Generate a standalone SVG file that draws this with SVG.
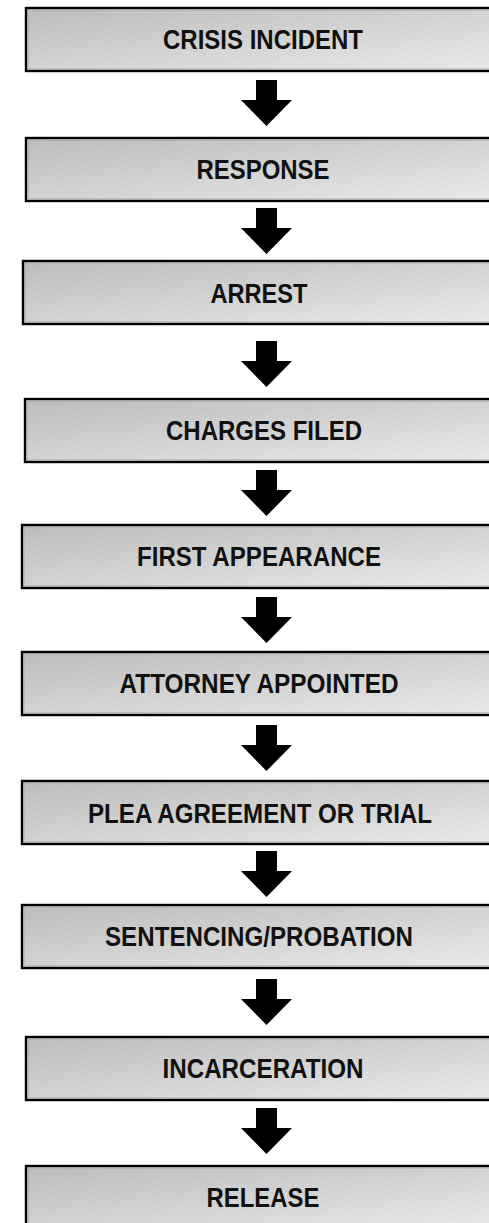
<svg xmlns="http://www.w3.org/2000/svg" width="489" height="1223" viewBox="0 0 489 1223">
<style>
.box{fill:url(#g);stroke:#000;stroke-width:2.4}
.inner{fill:none;stroke:#a9a9a9;stroke-width:1}
.lbl{font-family:"Liberation Sans",Arial,sans-serif;font-weight:bold;font-size:27px;fill:#111;text-anchor:middle}
.arr{fill:#000}
</style>
<defs>
<linearGradient id="g" x1="0" y1="0" x2="1" y2="1">
<stop offset="0" stop-color="#bcbcbc"/>
<stop offset="1" stop-color="#ebebeb"/>
</linearGradient>
</defs>
<rect width="489" height="1223" fill="#fff"/>
<g id="connectors">
<path class="arr" d="M256,80H277V100H292L266.5,126L241,100H256Z"/>
<path class="arr" d="M256,208H277V228H292L266.5,254L241,228H256Z"/>
<path class="arr" d="M256,341H277V361H292L266.5,387L241,361H256Z"/>
<path class="arr" d="M256,470H277V490H292L266.5,516L241,490H256Z"/>
<path class="arr" d="M256,597H277V617H292L266.5,643L241,617H256Z"/>
<path class="arr" d="M256,725H277V745H292L266.5,771L241,745H256Z"/>
<path class="arr" d="M256,851H277V871H292L266.5,897L241,871H256Z"/>
<path class="arr" d="M256,979H277V999H292L266.5,1025L241,999H256Z"/>
<path class="arr" d="M256,1108H277V1128H292L266.5,1154L241,1128H256Z"/>
</g>
<g id="n1"><rect class="box" x="26" y="8" width="500" height="63"/><rect class="inner" x="28" y="10" width="500" height="59"/><text class="lbl" x="263" y="49" textLength="200" lengthAdjust="spacingAndGlyphs">CRISIS INCIDENT</text></g>
<g id="n2"><rect class="box" x="26" y="138" width="500" height="63"/><rect class="inner" x="28" y="140" width="500" height="59"/><text class="lbl" x="263" y="179" textLength="133" lengthAdjust="spacingAndGlyphs">RESPONSE</text></g>
<g id="n3"><rect class="box" x="23" y="261" width="500" height="63"/><rect class="inner" x="25" y="263" width="500" height="59"/><text class="lbl" x="259" y="303" textLength="97" lengthAdjust="spacingAndGlyphs">ARREST</text></g>
<g id="n4"><rect class="box" x="25" y="399" width="500" height="63"/><rect class="inner" x="27" y="401" width="500" height="59"/><text class="lbl" x="264" y="440" textLength="196" lengthAdjust="spacingAndGlyphs">CHARGES FILED</text></g>
<g id="n5"><rect class="box" x="22" y="525" width="500" height="63"/><rect class="inner" x="24" y="527" width="500" height="59"/><text class="lbl" x="259" y="566" textLength="244" lengthAdjust="spacingAndGlyphs">FIRST APPEARANCE</text></g>
<g id="n6"><rect class="box" x="22" y="652" width="500" height="63"/><rect class="inner" x="24" y="654" width="500" height="59"/><text class="lbl" x="259" y="693" textLength="279" lengthAdjust="spacingAndGlyphs">ATTORNEY APPOINTED</text></g>
<g id="n7"><rect class="box" x="22" y="781" width="500" height="63"/><rect class="inner" x="24" y="783" width="500" height="59"/><text class="lbl" x="260" y="823" textLength="344" lengthAdjust="spacingAndGlyphs">PLEA AGREEMENT OR TRIAL</text></g>
<g id="n8"><rect class="box" x="22" y="905" width="500" height="63"/><rect class="inner" x="24" y="907" width="500" height="59"/><text class="lbl" x="259" y="946" textLength="308" lengthAdjust="spacingAndGlyphs">SENTENCING/PROBATION</text></g>
<g id="n9"><rect class="box" x="26" y="1037" width="500" height="63"/><rect class="inner" x="28" y="1039" width="500" height="59"/><text class="lbl" x="263" y="1078" textLength="201" lengthAdjust="spacingAndGlyphs">INCARCERATION</text></g>
<g id="n10"><rect class="box" x="26" y="1166" width="500" height="63"/><rect class="inner" x="28" y="1168" width="500" height="59"/><text class="lbl" x="263" y="1207" textLength="113" lengthAdjust="spacingAndGlyphs">RELEASE</text></g>
</svg>
